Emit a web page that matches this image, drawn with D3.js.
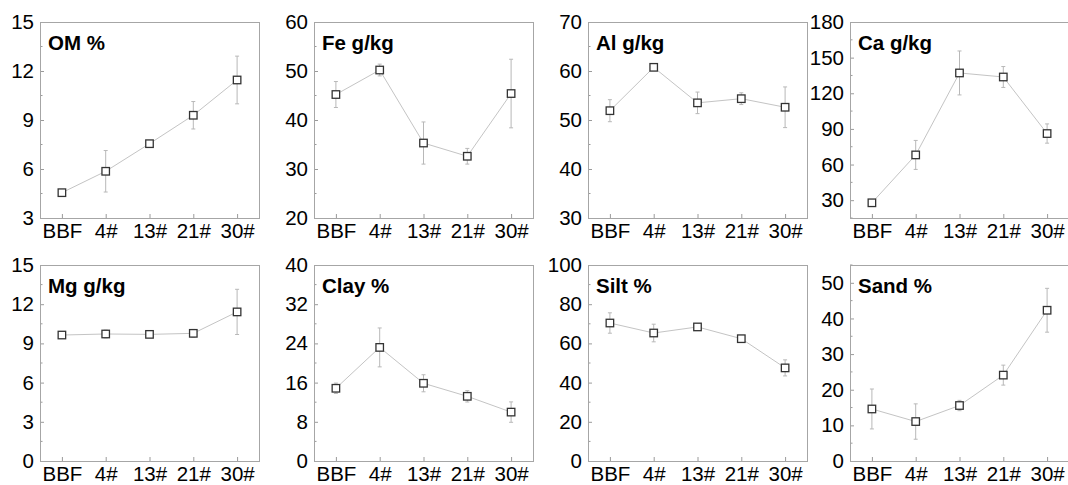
<!DOCTYPE html>
<html>
<head>
<meta charset="utf-8">
<script src="https://cdn.jsdelivr.net/npm/d3@7/dist/d3.min.js"></script>
<style>
  html, body { margin: 0; padding: 0; background: #fff; overflow: hidden; }
  svg { display: block; font-family: "Liberation Sans", Arial, sans-serif; }
</style>
</head>
<body>
<svg id="chart" width="1068" height="485"></svg>
<script>
// Sampling sites along the x axis
const sites = ["BBF", "4#", "13#", "21#", "30#"];

// Soil properties: mean and standard deviation at each site
const omMean = [4.55, 5.86, 7.55, 9.29, 11.45];
const omErr  = [0.15, 1.27, 0.12, 0.84, 1.46];
const omTicks = [3, 6, 9, 12, 15];

const feMean = [45.2, 50.2, 35.3, 32.6, 45.4];
const feErr  = [2.65, 1.2, 4.3, 1.6, 7.0];
const feTicks = [20, 30, 40, 50, 60];

const alMean = [51.9, 60.75, 53.5, 54.35, 52.6];
const alErr  = [2.25, 0.5, 2.2, 1.2, 4.15];
const alTicks = [30, 40, 50, 60, 70];

const caMean = [27.8, 68.1, 137.1, 133.7, 86.1];
const caErr  = [2.0, 12.2, 18.5, 8.8, 8.1];
const caTicks = [30, 60, 90, 120, 150, 180];

const mgMean = [9.64, 9.72, 9.69, 9.77, 11.41];
const mgErr  = [0.15, 0.3, 0.1, 0.3, 1.73];
const mgTicks = [0, 3, 6, 9, 12, 15];

const clayMean = [14.84, 23.18, 15.86, 13.2, 9.98];
const clayErr  = [1.06, 3.97, 1.74, 1.16, 2.08];
const clayTicks = [0, 8, 16, 24, 32, 40];

const siltMean = [70.4, 65.3, 68.4, 62.4, 47.5];
const siltErr  = [5.2, 4.5, 1.5, 1.5, 4.1];
const siltTicks = [0, 20, 40, 60, 80, 100];

const sandMean = [14.6, 11.07, 15.57, 24.1, 42.3];
const sandErr  = [5.6, 4.96, 1.45, 2.8, 6.15];
const sandTicks = [0, 10, 20, 30, 40, 50];

const panels = [
  { title: "OM %",    mean: omMean,   err: omErr,   ticks: omTicks,   domain: [3, 15],   minor: 1.5, col: 0, row: 0 },
  { title: "Fe g/kg", mean: feMean,   err: feErr,   ticks: feTicks,   domain: [20, 60],  minor: 5,   col: 1, row: 0 },
  { title: "Al g/kg", mean: alMean,   err: alErr,   ticks: alTicks,   domain: [30, 70],  minor: 5,   col: 2, row: 0 },
  { title: "Ca g/kg", mean: caMean,   err: caErr,   ticks: caTicks,   domain: [15, 180], minor: 15,  col: 3, row: 0 },
  { title: "Mg g/kg", mean: mgMean,   err: mgErr,   ticks: mgTicks,   domain: [0, 15],   minor: 1.5, col: 0, row: 1 },
  { title: "Clay %",  mean: clayMean, err: clayErr, ticks: clayTicks, domain: [0, 40],   minor: 4,   col: 1, row: 1 },
  { title: "Silt %",  mean: siltMean, err: siltErr, ticks: siltTicks, domain: [0, 100],  minor: 10,  col: 2, row: 1 },
  { title: "Sand %",  mean: sandMean, err: sandErr, ticks: sandTicks, domain: [0, 55],   minor: 5,   col: 3, row: 1 }
];

// Grid geometry
const colLeft = [40, 314, 588, 850];
const rowTop = [22, 265];
const pw = 219, ph = 196;

const svg = d3.select("#chart");

panels.forEach(p => {
  const g = svg.append("g")
    .attr("transform", `translate(${colLeft[p.col]},${rowTop[p.row]})`);

  const x = d3.scalePoint().domain(sites).range([0, pw]).padding(0.5);
  const y = d3.scaleLinear().domain(p.domain).range([ph, 0]);

  // minor ticks on the y axis
  const minorVals = d3.range(p.domain[0], p.domain[1] + 1e-9, p.minor)
    .filter(v => !p.ticks.some(t => Math.abs(t - v) < 1e-6));
  g.selectAll(".minor").data(minorVals).enter().append("line")
    .attr("x1", 0).attr("x2", 2.5)
    .attr("y1", d => y(d)).attr("y2", d => y(d))
    .attr("stroke", "#9a9a9a").attr("stroke-width", 1);

  // y axis (ticks point inward)
  const yAxis = g.append("g")
    .call(d3.axisLeft(y).tickValues(p.ticks).tickSizeInner(-4).tickSizeOuter(0).tickPadding(6));
  yAxis.select(".domain").remove();
  yAxis.selectAll(".tick line").attr("stroke", "#9a9a9a");
  yAxis.selectAll(".tick text")
    .attr("font-size", 20.5).attr("fill", "#000")
    .attr("font-family", "Arial, 'Liberation Sans', sans-serif");

  // x axis (ticks point inward)
  const xAxis = g.append("g")
    .attr("transform", `translate(0,${ph})`)
    .call(d3.axisBottom(x).tickSizeInner(-4).tickSizeOuter(0).tickPadding(5));
  xAxis.select(".domain").remove();
  xAxis.selectAll(".tick line").attr("stroke", "#9a9a9a");
  xAxis.selectAll(".tick text")
    .attr("font-size", 20.5).attr("fill", "#000")
    .attr("font-family", "Arial, 'Liberation Sans', sans-serif");

  // frame
  g.append("rect")
    .attr("x", 0.5).attr("y", 0.5).attr("width", pw).attr("height", ph)
    .attr("fill", "none").attr("stroke", "#a6a6a6").attr("stroke-width", 1);

  const pts = sites.map((s, i) => ({ s, m: p.mean[i], e: p.err[i] }));

  // connecting line
  g.append("path")
    .datum(pts)
    .attr("d", d3.line().x(d => x(d.s)).y(d => y(d.m)))
    .attr("fill", "none").attr("stroke", "#c4c4c4").attr("stroke-width", 1);

  // error bars
  const eb = g.selectAll(".eb").data(pts).enter().append("g").attr("stroke", "#b8b8b8").attr("stroke-width", 1);
  eb.append("line")
    .attr("x1", d => x(d.s)).attr("x2", d => x(d.s))
    .attr("y1", d => y(d.m - d.e)).attr("y2", d => y(d.m + d.e));
  eb.append("line")
    .attr("x1", d => x(d.s) - 2).attr("x2", d => x(d.s) + 2)
    .attr("y1", d => y(d.m + d.e)).attr("y2", d => y(d.m + d.e));
  eb.append("line")
    .attr("x1", d => x(d.s) - 2).attr("x2", d => x(d.s) + 2)
    .attr("y1", d => y(d.m - d.e)).attr("y2", d => y(d.m - d.e));

  // square markers
  const sz = 7.5;
  g.selectAll(".mk").data(pts).enter().append("rect")
    .attr("x", d => x(d.s) - sz / 2).attr("y", d => y(d.m) - sz / 2)
    .attr("width", sz).attr("height", sz)
    .attr("fill", "#fff").attr("stroke", "#333").attr("stroke-width", 1.3);

  // panel title
  g.append("text")
    .attr("x", 8).attr("y", 28)
    .attr("font-size", 20.5).attr("font-weight", "bold")
    .attr("font-family", "Arial, 'Liberation Sans', sans-serif")
    .attr("fill", "#000")
    .text(p.title);
});
</script>
</body>
</html>
